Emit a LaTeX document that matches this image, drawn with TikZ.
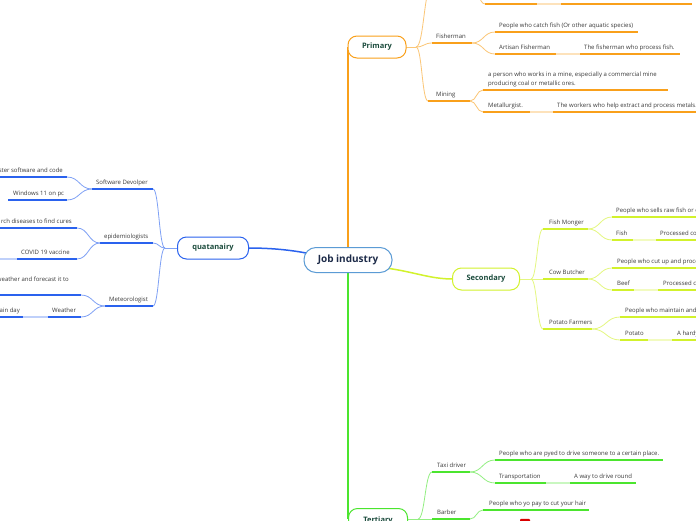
\documentclass[tikz,border=0pt]{standalone}
\usepackage{fontspec}
\setmainfont{Open Sans}
\usetikzlibrary{calc}
\definecolor{orA}{HTML}{F9A01B}
\definecolor{yeA}{HTML}{D2F22C}
\definecolor{grA}{HTML}{4BE52E}
\definecolor{blA}{HTML}{2A62EE}
\definecolor{cbl}{HTML}{5B9BD5}
\definecolor{txt}{HTML}{3A3A3A}
\definecolor{maintxt}{HTML}{1B4B3C}
\definecolor{ctxt}{HTML}{1D2B49}
\tikzset{
 ul/.style={line width=1.7pt, draw=#1},
 pale/.style={line width=1.7pt, draw=#1!30},
 cv/.style={line width=0.8pt, draw=#1!60},
 leaf/.style={font=\fontsize{6}{7.6}\selectfont, text=txt, inner sep=0pt, anchor=base west},
 leafr/.style={leaf, anchor=base east},
 mainbox/.style={draw=#1, line width=1pt, fill=white, rounded corners=9pt,
   font=\bfseries\fontsize{7.5}{9}\selectfont, text=maintxt, minimum height=22pt, inner sep=0pt},
}
\newcommand\mmlink[3]{\draw[cv=#1] let \p1=(#2), \p2=(#3) in (\p1) .. controls ({(\x1+\x2)/2},{\y1}) and ({(\x1+\x2)/2},{\y2}) .. (\p2);}
\begin{document}
\begin{tikzpicture}[x=1pt,y=-1pt]
\path[use as bounding box, fill=white] (0,0) rectangle (696,520);

% ---------- coordinates: main branches
\coordinate (pIn) at (348,47);
\coordinate (tIn) at (348,519);
\coordinate (jobY) at (386,268);
\coordinate (sIn) at (453,279);
\coordinate (jobB) at (306,253);
\coordinate (qIn) at (247,248);

\draw[line width=2pt, draw=orA] (348,247) -- (pIn);
\draw[line width=2pt, draw=grA] (348,272) -- (tIn);
\draw[line width=1.5pt, draw=yeA] (jobY) .. controls (415,272) and (430,279) .. (sIn);
\draw[line width=1.5pt, draw=blA] (jobB) .. controls (285,249) and (265,248) .. (qIn);

% ---------- Primary
\coordinate (pOut) at (406,47);
\coordinate (pJ) at (416,47);
\draw[cv=orA] (pOut) -- (pJ);
\coordinate (topA) at (432,-15); \coordinate (topB) at (472,-15);
\coordinate (rowA) at (485,4); \coordinate (rowB) at (537,4);
\coordinate (row2A) at (561,4); \coordinate (row2B) at (692,4);
\mmlink{orA}{pJ}{topA}
\draw[ul=orA] (topA) -- (topB);
\mmlink{orA}{topB}{rowA}
\draw[ul=orA] (rowA) -- (rowB);
\draw[pale=orA] (rowB) -- (row2A);
\draw[ul=orA] (row2A) -- (row2B);

\coordinate (fishA) at (432,43); \coordinate (fishB) at (472,43);
\mmlink{orA}{pJ}{fishA}
\draw[ul=orA] (fishA) -- (fishB);
\node[leaf] (fisherman) at (436,38) {Fisherman};
\coordinate (catA) at (495,32); \coordinate (catB) at (638,32);
\coordinate (artA) at (495,54); \coordinate (artB) at (556,54);
\coordinate (procA) at (580,54); \coordinate (procB) at (680,54);
\mmlink{orA}{fishB}{catA}
\mmlink{orA}{fishB}{artA}
\draw[ul=orA] (catA) -- (catB);
\draw[ul=orA] (artA) -- (artB);
\draw[pale=orA] (artB) -- (procA);
\draw[ul=orA] (procA) -- (procB);
\node[leaf] (catch) at (499,27) {People who catch fish (Or other aquatic species)};
\node[leaf] (artisan) at (499,49) {Artisan Fisherman};
\node[leaf] (process) at (584,49) {The fisherman who process fish.};

\coordinate (minA) at (428,101); \coordinate (minB) at (470,101);
\mmlink{orA}{pJ}{minA}
\draw[ul=orA] (minA) -- (minB);
\node[leaf] (mining) at (436,96) {Mining};
\coordinate (perA) at (483,90); \coordinate (perB) at (668,90);
\coordinate (metA) at (483,112); \coordinate (metB) at (530,112);
\coordinate (wrkA) at (553,112); \coordinate (wrkB) at (700,112);
\mmlink{orA}{minB}{perA}
\mmlink{orA}{minB}{metA}
\draw[ul=orA] (perA) -- (perB);
\draw[ul=orA] (metA) -- (metB);
\draw[pale=orA] (metB) -- (wrkA);
\draw[ul=orA] (wrkA) -- (wrkB);
\node[leaf] (person1) at (488,76.5) {a person who works in a mine, especially a commercial mine};
\node[leaf] (person2) at (488,85.5) {producing coal or metallic ores.};
\node[leaf] (metal) at (488,107) {Metallurgist.};
\node[leaf] (workers) at (557,107) {The workers who help extract and process metals.};

% ---------- Secondary
\coordinate (sOut) at (519,279);
\coordinate (sJ) at (531,279);
\draw[cv=yeA] (sOut) -- (sJ);
\coordinate (fmA) at (543,229); \coordinate (fmB) at (588,229);
\coordinate (cbA) at (543,279); \coordinate (cbB) at (588,279);
\coordinate (pfA) at (543,329); \coordinate (pfB) at (592,329);
\mmlink{yeA}{sJ}{fmA}
\mmlink{yeA}{sJ}{cbA}
\mmlink{yeA}{sJ}{pfA}
\draw[ul=yeA] (fmA) -- (fmB);
\draw[ul=yeA] (cbA) -- (cbB);
\draw[ul=yeA] (pfA) -- (pfB);
\node[leaf] (fishmonger) at (549,224) {Fish Monger};
\node[leaf] (cowbutcher) at (549,274) {Cow Butcher};
\node[leaf] (potfarm) at (549,324) {Potato Farmers};

\coordinate (sellA) at (612,217); \coordinate (sellB) at (700,217);
\coordinate (fsA) at (612,240); \coordinate (fsB) at (633,240);
\coordinate (pcA) at (656,240); \coordinate (pcB) at (700,240);
\mmlink{yeA}{fmB}{sellA}
\mmlink{yeA}{fmB}{fsA}
\draw[ul=yeA] (sellA) -- (sellB);
\draw[ul=yeA] (fsA) -- (fsB);
\draw[pale=yeA] (fsB) -- (pcA);
\draw[ul=yeA] (pcA) -- (pcB);
\node[leaf] (sells) at (616,212) {People who sells raw fish or c};
\node[leaf] (fishT) at (616,235) {Fish};
\node[leaf] (proc1) at (660,235) {Processed co};

\coordinate (cutA) at (612,268); \coordinate (cutB) at (700,268);
\coordinate (beefA) at (612,290); \coordinate (beefB) at (634,290);
\coordinate (pc2A) at (658,290); \coordinate (pc2B) at (700,290);
\mmlink{yeA}{cbB}{cutA}
\mmlink{yeA}{cbB}{beefA}
\draw[ul=yeA] (cutA) -- (cutB);
\draw[ul=yeA] (beefA) -- (beefB);
\draw[pale=yeA] (beefB) -- (pc2A);
\draw[ul=yeA] (pc2A) -- (pc2B);
\node[leaf] (cutup) at (617,263) {People who cut up and proce};
\node[leaf] (beef) at (617,285) {Beef};
\node[leaf] (proc2) at (663,285) {Processed c};

\coordinate (mainA) at (620,317); \coordinate (mainB) at (700,317);
\coordinate (potA) at (620,340); \coordinate (potB) at (648,340);
\coordinate (hardA) at (672,340); \coordinate (hardB) at (700,340);
\mmlink{yeA}{pfB}{mainA}
\mmlink{yeA}{pfB}{potA}
\draw[ul=yeA] (mainA) -- (mainB);
\draw[ul=yeA] (potA) -- (potB);
\draw[pale=yeA] (potB) -- (hardA);
\draw[ul=yeA] (hardA) -- (hardB);
\node[leaf] (maintain) at (625,312) {People who maintain and};
\node[leaf] (potato) at (625,335) {Potato};
\node[leaf] (hardy) at (677,335) {A hardy};

% ---------- Tertiary
\coordinate (tOut) at (407,519);
\coordinate (tJ) at (418,519);
\draw[cv=grA] (tOut) -- (tJ);
\coordinate (taxiA) at (432,472); \coordinate (taxiB) at (470,472);
\coordinate (barA) at (432,519); \coordinate (barB) at (470,519);
\mmlink{grA}{tJ}{taxiA}
\draw[cv=grA] (tJ) -- (barA);
\draw[ul=grA] (taxiA) -- (taxiB);
\draw[ul=grA] (barA) -- (barB);
\node[leaf] (taxi) at (437,467) {Taxi driver};
\node[leaf] (barber) at (437,514) {Barber};
\coordinate (pyA) at (495,460); \coordinate (pyB) at (663,460);
\coordinate (trA) at (495,483); \coordinate (trB) at (546,483);
\coordinate (wayA) at (570,483); \coordinate (wayB) at (636,483);
\mmlink{grA}{taxiB}{pyA}
\mmlink{grA}{taxiB}{trA}
\draw[ul=grA] (pyA) -- (pyB);
\draw[ul=grA] (trA) -- (trB);
\draw[pale=grA] (trB) -- (wayA);
\draw[ul=grA] (wayA) -- (wayB);
\node[leaf] (pyed) at (499,455) {People who are pyed to drive someone to a certain place.};
\node[leaf] (transp) at (499,478) {Transportation};
\node[leaf] (way) at (574,478) {A way to drive round};
\coordinate (hairA) at (483,510); \coordinate (hairB) at (589,510);
\mmlink{grA}{barB}{hairA}
\draw[ul=grA] (hairA) -- (hairB);
\node[leaf] (hair) at (489,505) {People who yo pay to cut your hair};
\fill[red!85!black, rounded corners=1pt] (520,518.8) rectangle (530,524);

% ---------- quatanairy
\coordinate (qOut) at (177,248);
\coordinate (qJ) at (165,248);
\draw[cv=blA] (qOut) -- (qJ);
\coordinate (swA) at (92,189); \coordinate (swB) at (153,189);
\coordinate (epA) at (100,243); \coordinate (epB) at (153,243);
\coordinate (meA) at (105,306); \coordinate (meB) at (153,306);
\mmlink{blA}{qJ}{swB}
\mmlink{blA}{qJ}{epB}
\mmlink{blA}{qJ}{meB}
\draw[ul=blA] (swA) -- (swB);
\draw[ul=blA] (epA) -- (epB);
\draw[ul=blA] (meA) -- (meB);
\node[leaf] (softdev) at (96,184) {Software Devolper};
\node[leaf] (epidem) at (104,238) {epidemiologists};
\node[leaf] (meteo) at (109,301) {Meteorologist};

\coordinate (codeA) at (-5,177); \coordinate (codeB) at (67,177);
\coordinate (winA) at (8,200); \coordinate (winB) at (67,200);
\mmlink{blA}{swA}{codeB}
\mmlink{blA}{swA}{winB}
\draw[ul=blA] (codeA) -- (codeB);
\draw[ul=blA] (winA) -- (winB);
\node[leafr] (code) at (63,172) {ster software and code};
\node[leaf] (win) at (13,195) {Windows 11 on pc};

\coordinate (curA) at (-5,228); \coordinate (curB) at (77,228);
\coordinate (covP) at (-5,259);
\coordinate (covA) at (17,259); \coordinate (covB) at (77,259);
\mmlink{blA}{epA}{curB}
\mmlink{blA}{epA}{covB}
\draw[ul=blA] (curA) -- (curB);
\draw[pale=blA] (covP) -- (covA);
\draw[ul=blA] (covA) -- (covB);
\node[leafr] (cures) at (72,223) {rch diseases to find cures};
\node[leaf] (covid) at (21,254) {COVID 19 vaccine};

\coordinate (wfA) at (-5,295); \coordinate (wfB) at (81,295);
\coordinate (dayA) at (-5,317); \coordinate (dayB) at (23,317);
\coordinate (wtA) at (48,317); \coordinate (wtB) at (81,317);
\mmlink{blA}{meA}{wfB}
\mmlink{blA}{meA}{wtB}
\draw[ul=blA] (wfA) -- (wfB);
\draw[ul=blA] (dayA) -- (dayB);
\draw[pale=blA] (dayB) -- (wtA);
\draw[ul=blA] (wtA) -- (wtB);
\node[leafr] (forecast) at (69,281) {weather and forecast it to};
\node[leafr] (day) at (20,312) {ain day};
\node[leaf] (weather) at (52,312) {Weather};

% ---------- main nodes
\node[mainbox=orA, minimum width=58pt] (primary) at (377,47) {Primary};
\node[mainbox=yeA, minimum width=67pt] (secondary) at (486,279) {Secondary};
\node[mainbox=grA, minimum width=59pt, minimum height=24pt] (tertiary) at (378,520.5) {Tertiary};
\node[mainbox=blA, minimum width=71pt] (quat) at (213,248) {quatanairy};
\node[draw=cbl, line width=1pt, fill=white, rounded corners=12pt, minimum width=88pt,
  minimum height=25pt, inner sep=0pt, font=\bfseries\fontsize{10}{12}\selectfont, text=ctxt] (job) at (348,260) {Job industry};
\end{tikzpicture}
\end{document}
